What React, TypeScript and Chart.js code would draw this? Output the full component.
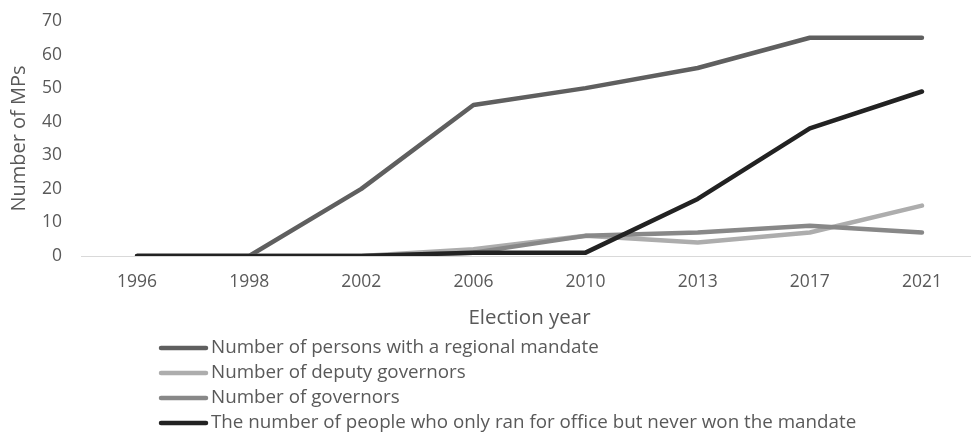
import React, { useEffect, useRef } from "react";
import { Chart, registerables } from "chart.js";

Chart.register(...registerables);

const years = ["1996", "1998", "2002", "2006", "2010", "2013", "2017", "2021"];
const regionalMandate = [0, 0, 20, 45, 50, 56, 65, 65];
const deputyGovernors = [0, 0, 0, 2, 6, 4, 7, 15];
const governors = [0, 0, 0, 1, 6, 7, 9, 7];
const ranOnly = [0, 0, 0, 1, 1, 17, 38, 49];
const seriesLabels = [
  "Number of persons with a regional mandate",
  "Number of deputy governors",
  "Number of governors",
  "The number of people who only ran for office but never won the mandate",
];
const seriesColors = ["#5f5f5f", "#adadad", "#888888", "#222222"];
const yTicks = [0, 10, 20, 30, 40, 50, 60, 70];

const FONT = "'Open Sans', 'Noto Sans', sans-serif";
const TEXT = "#595959";

const legendPlugin = {
  id: "listLegend",
  afterDraw(chart: any) {
    const ctx = chart.ctx;
    ctx.save();
    const rowY = [348, 373, 398, 423];
    chart.data.datasets.forEach((ds: any, i: number) => {
      const y = rowY[i];
      ctx.strokeStyle = ds.borderColor;
      ctx.lineWidth = 4.5;
      ctx.lineCap = "round";
      ctx.beginPath();
      ctx.moveTo(161, y);
      ctx.lineTo(206, y);
      ctx.stroke();
      ctx.fillStyle = TEXT;
      ctx.font = `18.8px ${FONT}`;
      ctx.textAlign = "left";
      ctx.textBaseline = "middle";
      ctx.fillText(ds.label, 211, y);
    });
    ctx.restore();
  },
};

export default function App() {
  const ref = useRef<HTMLCanvasElement>(null);
  useEffect(() => {
    if (!ref.current) return;
    const mk = (i: number, data: number[], order: number) => ({
      label: seriesLabels[i],
      data,
      borderColor: seriesColors[i],
      backgroundColor: seriesColors[i],
      borderWidth: 4.5,
      borderCapStyle: "round" as const,
      borderJoinStyle: "round" as const,
      pointRadius: 0,
      tension: 0,
      order,
    });
    const chart = new Chart(ref.current, {
      type: "line",
      data: {
        labels: years,
        datasets: [
          mk(0, regionalMandate, 4),
          mk(1, deputyGovernors, 3),
          mk(2, governors, 2),
          mk(3, ranOnly, 1),
        ],
      },
      options: {
        animation: false,
        responsive: true,
        maintainAspectRatio: false,
        layout: { padding: { left: 0, right: 7, top: 21, bottom: 0 } },
        plugins: { legend: { display: false }, tooltip: { enabled: false } },
        scales: {
          x: {
            offset: true,
            grid: { display: false, drawTicks: false },
            border: { display: true, color: "#d9d9d9", width: 1 },
            ticks: { color: TEXT, font: { family: FONT, size: 17.5 }, padding: 16, maxRotation: 0 },
            title: {
              display: true,
              text: "Election year",
              color: TEXT,
              font: { family: FONT, size: 20.5 },
              padding: { top: 4, bottom: 104 },
            },
            afterFit(scale: any) {
              scale.height = 178;
            },
          },
          y: {
            min: 0,
            max: 70,
            grid: { display: false, drawTicks: false },
            border: { display: false },
            afterBuildTicks(scale: any) {
              scale.ticks = yTicks.map((v) => ({ value: v }));
            },
            ticks: { color: TEXT, font: { family: FONT, size: 17.5 }, padding: 19 },
            title: {
              display: true,
              text: "Number of MPs",
              color: TEXT,
              font: { family: FONT, size: 20 },
              padding: { top: 7, bottom: 0 },
            },
            afterFit(scale: any) {
              scale.width = 81;
              scale.paddingTop = 0;
              scale.paddingBottom = 0;
            },
          },
        },
      },
      plugins: [legendPlugin],
    });
    return () => chart.destroy();
  }, []);
  return (
    <div style={{ position: "absolute", left: 0, top: 0, width: 971, height: 434, overflow: "hidden", background: "#fff" }}>
      <div style={{ position: "relative", width: 985, height: 434 }}>
        <canvas ref={ref} />
      </div>
    </div>
  );
}
